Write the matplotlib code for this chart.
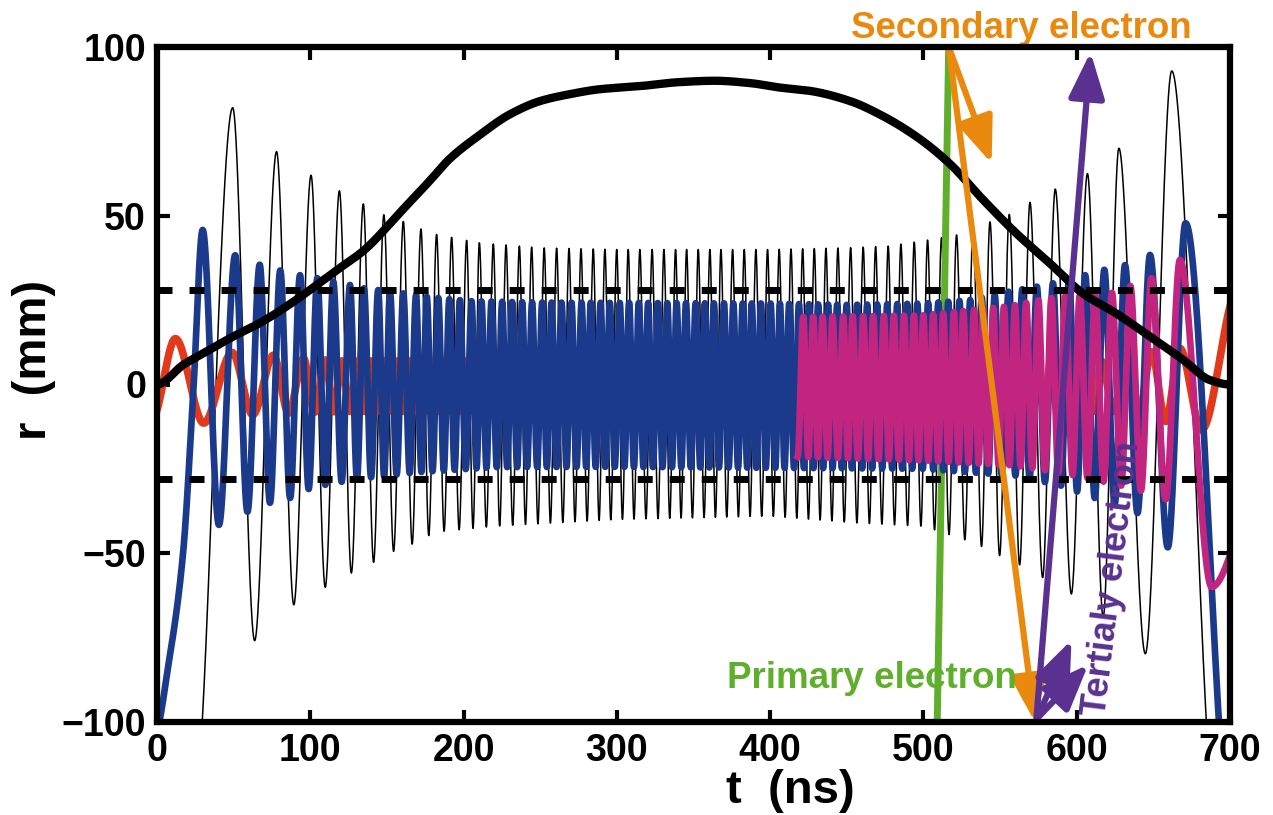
import numpy as np
import matplotlib
matplotlib.use("Agg")
import matplotlib.pyplot as plt

plt.rcParams['font.family'] = ['Liberation Sans', 'DejaVu Sans']
plt.rcParams['font.weight'] = 'bold'
plt.rcParams['axes.labelweight'] = 'bold'

# ---- data (t in ns, r in mm) ----
# thick black curve
field_t = [0, 17, 32, 50, 67, 82.4, 97.6, 117, 134.6, 160.7, 178, 191, 210.7, 230, 250,
           269, 289, 315, 341, 364, 387, 406, 426, 452, 471.6, 495.6, 517, 539, 560.8,
           582.5, 604, 626, 647.8, 669.5, 687, 700]
field_r = [0, 5.8, 9.7, 14.3, 18.2, 22.5, 27.3, 33.8, 39.6, 52, 60.4, 66.9, 74, 80, 84,
           86, 87.5, 88.4, 89.6, 90, 89.3, 88, 87, 84, 80, 73.4, 65.5, 54.7, 44.7,
           35.9, 27, 21, 14.2, 7.3, 1.3, 0]
dash_r = [28, -28]

# thin black orbit: peak times, envelopes, start / end points
thin_peak_t = [49.4, 78, 100.5, 119, 134.6, 148, 160.7, 172.2, 182.4, 192.2, 202, 210.3,
               219.4, 227.7, 236.4, 244.4, 252.6, 260.7, 268.8, 276.6, 284.6, 292.2, 299.9,
               307.4, 315, 323, 330.7, 338.3, 345.5, 353.1, 360.7, 367.9, 375.5, 383.1,
               390.7, 398.3, 405.9, 413.6, 421.2, 428.8, 436.4, 444.2, 452.5, 460.7, 468.8,
               477, 485.3, 494, 502.7, 511.8, 521.6, 532.4, 543.4, 556, 569.5, 586, 607,
               627.5, 662]
thin_hi_t = [49.4, 78, 100.5, 119, 134.6, 148, 160.7, 172, 182, 210, 250, 300, 400, 450,
             477, 502.7, 521.6, 543.4, 556, 569.5, 586, 607, 627.5, 662]
thin_hi_r = [82, 69, 62, 57.4, 53.5, 50.3, 48.3, 46.1, 44.5, 42, 40.5, 40, 40, 40.5,
             41, 42.8, 44.3, 48.2, 50.4, 54, 57.9, 62.5, 70, 92.9]
thin_lo_t = [24, 65, 90, 110, 127, 141.6, 154.5, 166, 177, 187, 220, 300, 400, 456, 500,
             527, 538, 548.8, 561, 577, 594.5, 617, 643.4, 692]
thin_lo_r = [-125, -74.3, -65, -60, -55.8, -52.6, -49.4, -47.4, -44.8, -43.5, -42, -40,
             -39, -41, -42, -46, -48, -50.5, -53, -57, -61.4, -68.8, -78.2, -135]
thin_head = [(24, -125)]
thin_tail = [(692, -135)]

# blue orbit
blue_peak_t = [29.8, 51, 67, 80.4, 93.3, 104.6, 115, 125.9, 135, 144.3, 152, 160.7, 169,
               176, 183.5, 190.7, 197.6, 205.2, 211.7, 218.2, 225.2, 231.7, 238.2, 244.7,
               251.3, 257.4, 263.9, 270.4, 277, 283, 289.4, 295.4, 301.9, 308, 314.3,
               320.4, 326.7, 332.9, 339, 345.1, 351.4, 357.4, 363.3, 369.9, 376, 382.1,
               388, 394, 400.3, 406.4, 412.4, 418.8, 425.3, 431.3, 437.8, 443.7, 449.9,
               456.8, 463.3, 469.8, 476.4, 482.9, 489.4, 496, 503.1, 509.7, 516.2, 523.5,
               530.5, 538, 546.5, 555.5, 564.5, 574, 584.5, 595, 605.5, 618, 631.5, 647.8,
               671]
blue_hi_t = [29.8, 51, 67, 80.4, 93.3, 104.6, 115, 125.9, 135, 144.3, 160.7, 176, 190.7,
             205.2, 250, 400, 450, 500, 530, 555.5, 574, 584.5, 605.5, 618, 631.5, 647.8, 671]
blue_hi_r = [45.8, 38.3, 35.5, 33.8, 32.4, 31.5, 30.5, 29.5, 28.5, 28, 27, 26, 25.3,
             24.7, 24.3, 24, 23.6, 24, 25, 27.5, 29, 30, 32.4, 34, 35.4, 38.4, 47.8]
blue_lo_t = [41, 59, 74, 88, 101, 130, 170, 220, 300, 500, 560, 590, 614, 635, 656.5, 702]
blue_lo_r = [-41.6, -37.7, -35, -33.5, -30.5, -28, -26, -24.5, -24.4, -25, -27, -30, -34,
             -37, -42, -140]
blue_head = [(-3, -106), (8.5, -80), (17, -50), (23.7, -2)]
blue_tail = [(702, -140)]

# red orbit
red_peak_t = [12, 49, 76, 95.6, 109.8, 120.7, 131, 140, 148.5, 157, 165, 172.5, 180, 187,
              194, 201, 208, 214.5, 221, 228, 234.5, 241, 247.5, 254, 260.5, 267, 273.5,
              280, 286, 292.5, 298.5, 305, 311, 317.5, 323.5, 330, 336, 342, 348.5, 354.5,
              360.5, 366.5, 373, 379, 385, 391, 397, 403.5, 409.5, 415.5, 422, 428.5,
              434.5, 441, 447, 453.5, 460, 466.5, 473, 479.5, 486, 492.5, 499, 506, 513,
              520, 527, 534.5, 542, 550, 558, 566, 574.5, 583, 591.5, 600, 608, 616, 632,
              648.8, 667.3]
red_hi_t = [12, 49, 76, 95.6, 109.8, 120.7, 200, 600, 616, 632, 648.8, 667.3, 705]
red_hi_r = [13.6, 9.5, 8.7, 7.8, 7.3, 7, 7, 7, 7, 8, 9.7, 10.7, 28]
red_lo_t = [-3, 27.2, 62, 87, 120, 600, 624, 640, 658.6, 681.4]
red_lo_r = [-10, -11.7, -9, -8.5, -8, -8, -8, -9, -11, -13.5]
red_head = [(-3, -10)]
red_tail = [(681.4, -13.5), (705, 28)]

# magenta orbit
mag_peak_t = [421.6, 428.1, 434.2, 440.7, 447.7, 453.8, 460.7, 467.2, 474.2, 480.7, 487.3,
              493.8, 499.9, 506.4, 512.9, 519.9, 526, 533, 539, 545.5, 552.5, 559.7, 567,
              575, 583.5, 592.5, 602, 612, 623, 635, 648.8, 667.3]
mag_hi_t = [421.6, 500, 552, 560, 570, 588, 604, 622, 648.8, 667.3]
mag_hi_r = [20, 20.5, 23, 23.5, 24.5, 26, 26.5, 27, 31.5, 36.9]
mag_lo_t = [418, 500, 560, 600, 639, 657.5]
mag_lo_r = [-21.4, -22.5, -24, -27, -31, -34]
mag_head = [(418, -21.4)]
mag_tail = [(688, -60), (720, -30)]

# electron paths (start, end)
primary = [(509, -100), (516.5, 100)]
secondary = [[(516.5, 100), (572.7, -100)], [(516.5, 100), (544.5, 65.5)]]
tertiary = [[(573.5, -100), (609, 98.5)], [(574, -99), (596.6, -75.7)],
            [(574, -99), (607.5, -83)]]

c_blue = '#1b3a8c'
c_red = '#e2391b'
c_mag = '#c2257f'
c_green = '#5fae2c'
c_orange = '#e98a0e'
c_purple = '#5a3190'


def pchip(xk, yk, x):
    xk = np.asarray(xk, float)
    yk = np.asarray(yk, float)
    h = np.diff(xk)
    d = np.diff(yk) / h
    m = np.zeros_like(yk)
    for k in range(1, len(xk) - 1):
        if d[k - 1] * d[k] > 0:
            w1 = 2 * h[k] + h[k - 1]
            w2 = h[k] + 2 * h[k - 1]
            m[k] = (w1 + w2) / (w1 / d[k - 1] + w2 / d[k])
    i = np.clip(np.searchsorted(xk, x) - 1, 0, len(xk) - 2)
    s = (x - xk[i]) / h[i]
    h00 = 2 * s**3 - 3 * s**2 + 1
    h10 = s**3 - 2 * s**2 + s
    h01 = -2 * s**3 + 3 * s**2
    h11 = s**3 - s**2
    return h00 * yk[i] + h10 * h[i] * m[i] + h01 * yk[i + 1] + h11 * h[i] * m[i + 1]


def orbit(head, peaks, tail, hi_t, hi_r, lo_t, lo_r):
    peaks = np.asarray(peaks, float)
    troughs = (peaks[:-1] + peaks[1:]) / 2
    ts, rs = [], []
    for p in head:
        ts.append(p[0]); rs.append(p[1])
    for k, p in enumerate(peaks):
        ts.append(p); rs.append(np.interp(p, hi_t, hi_r))
        if k < len(troughs):
            ts.append(troughs[k]); rs.append(np.interp(troughs[k], lo_t, lo_r))
    for p in tail:
        ts.append(p[0]); rs.append(p[1])
    t = np.linspace(ts[0], ts[-1], 12000)
    return t, pchip(ts, rs, t)


fig = plt.figure(figsize=(12.73, 8.15), dpi=100)
ax = fig.add_axes([157 / 1273, 1 - 722 / 815, 1073 / 1273, 675 / 815])

t, r = orbit(thin_head, thin_peak_t, thin_tail, thin_hi_t, thin_hi_r, thin_lo_t, thin_lo_r)
ax.plot(t, r, color='black', lw=1.1, zorder=1)

ax.plot([p[0] for p in primary], [p[1] for p in primary], color=c_green, lw=5,
        solid_capstyle='butt', zorder=2)

t, r = orbit(red_head, red_peak_t, red_tail, red_hi_t, red_hi_r, red_lo_t, red_lo_r)
ax.plot(t, r, color=c_red, lw=5.5, zorder=3)

t, r = orbit(blue_head, blue_peak_t, blue_tail, blue_hi_t, blue_hi_r, blue_lo_t, blue_lo_r)
ax.plot(t, r, color=c_blue, lw=4.8, zorder=4)

t, r = orbit(mag_head, mag_peak_t, mag_tail, mag_hi_t, mag_hi_r, mag_lo_t, mag_lo_r)
ax.plot(t, r, color=c_mag, lw=4.8, zorder=5)

for y in dash_r:
    ax.axhline(y, color='black', lw=5, ls=(0, (2.16, 2.45)), zorder=6)

tf = np.linspace(0, 700, 2000)
ax.plot(tf, pchip(field_t, field_r, tf), color='black', lw=6, zorder=7)

for (a, b) in secondary:
    ax.annotate('', xy=b, xytext=a, zorder=8,
                arrowprops=dict(arrowstyle='-|>,head_length=1.4,head_width=0.55',
                                color=c_orange, lw=4.5, mutation_scale=20,
                                shrinkA=0, shrinkB=0))
for (a, b) in tertiary:
    ax.annotate('', xy=b, xytext=a, zorder=9,
                arrowprops=dict(arrowstyle='-|>,head_length=1.4,head_width=0.55',
                                color=c_purple, lw=4.5, mutation_scale=20,
                                shrinkA=0, shrinkB=0))

ax.text(563.7, 102.7, 'Secondary electron', color=c_orange, fontsize=26.5,
        ha='center', va='baseline', clip_on=False, zorder=10)
ax.text(466.4, -89.9, 'Primary electron', color=c_green, fontsize=26.5,
        ha='center', va='baseline', zorder=10)
ax.text(623.5, -57.5, 'Tertialy electron', color=c_purple, fontsize=26, rotation=83,
        ha='center', va='center', rotation_mode='anchor', zorder=10)

ax.set_xlim(0, 700)
ax.set_ylim(-100, 100)
ax.set_xticks(range(0, 701, 100))
ax.set_yticks([-100, -50, 0, 50, 100])
ax.tick_params(direction='in', length=9, width=3, top=True, right=True,
               labelsize=27, pad=8)
for s in ax.spines.values():
    s.set_linewidth(4.5)
    s.set_zorder(11)

ax.set_xlabel('t  (ns)', fontsize=34, fontweight='bold')
ax.xaxis.set_label_coords(0.59, -0.07)
ax.set_ylabel('r  (mm)', fontsize=34, fontweight='bold')
ax.yaxis.set_label_coords(-0.094, 0.536)

fig.savefig('out.png', dpi=100)
